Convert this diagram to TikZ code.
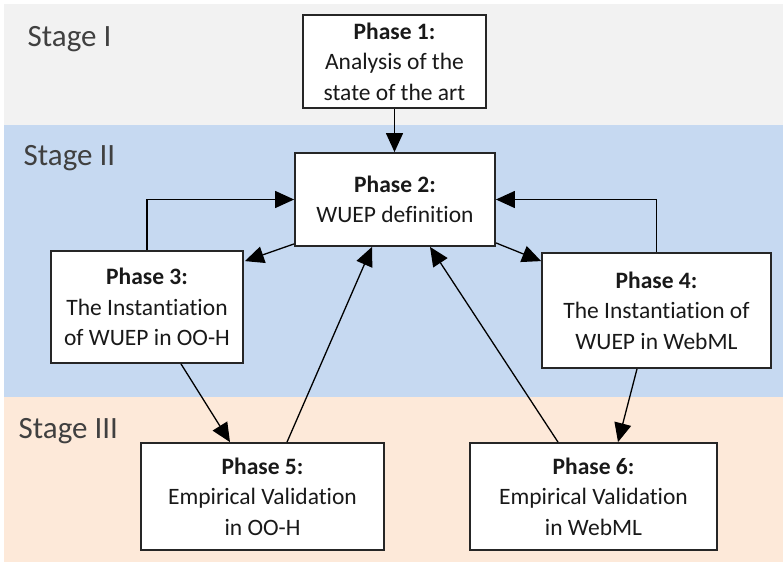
\documentclass[tikz,border=0pt]{standalone}
\usepackage{fontspec}
\setmainfont{Carlito}[Ligatures={NoCommon}]
\usetikzlibrary{arrows.meta,calc}
\definecolor{stageone}{HTML}{F2F2F2}
\definecolor{stagetwo}{HTML}{C6D9F1}
\definecolor{stagethree}{HTML}{FDE9D9}
\definecolor{labelgray}{HTML}{404040}

\begin{document}
\begin{tikzpicture}[x=1pt,y=-1pt,
  phasebox/.style={draw=black!85, line width=1.8pt, fill=white, align=center,
    inner sep=0pt, font=\fontsize{23.5}{30.5}\selectfont, text=black!90},
  flow/.style={line width=1.3pt, -{Triangle[length=19pt,width=17pt]}},
  stagelabel/.style={anchor=base west, inner sep=0pt,
    font=\fontsize{31}{36}\selectfont, text=labelgray}]

\useasboundingbox (0,0) rectangle (783,562);
\fill[white] (0,0) rectangle (783,562);

% stage bands
\fill[stageone]   (4,4)   rectangle (783,125);
\fill[stagetwo]   (4,125) rectangle (783,397);
\fill[stagethree] (4,397) rectangle (783,562);

\node[stagelabel] (s1) at (27.5,46)  {Stage I};
\node[stagelabel] (s2) at (23.5,165) {Stage II};
\node[stagelabel] (s3) at (18.5,438) {Stage III};

% phases
\node[phasebox, minimum width=183pt, minimum height=93pt] (p1) at (394.5,61.5)
  {\textbf{Phase 1:}\\Analysis of the\\state of the art};
\node[phasebox, minimum width=200pt, minimum height=93pt] (p2) at (395,199.5)
  {\textbf{Phase 2:}\\WUEP definition};
\node[phasebox, minimum width=192pt, minimum height=112pt] (p3) at (147,307)
  {\textbf{Phase 3:}\\The Instantiation\\of WUEP in OO-H};
\node[phasebox, minimum width=229pt, minimum height=115pt] (p4) at (656.5,310.5)
  {\textbf{Phase 4:}\\The Instantiation of\\WUEP in WebML};
\node[phasebox, minimum width=243pt, minimum height=107pt] (p5) at (262.5,496.5)
  {\textbf{Phase 5:}\\Empirical Validation\\in OO-H};
\node[phasebox, minimum width=247pt, minimum height=107pt] (p6) at (593.5,496.5)
  {\textbf{Phase 6:}\\Empirical Validation\\in WebML};

% connectors
\draw[flow] (p1.south) -- (p1.south |- p2.north);
\draw[flow] (p3.north) |- (p2.west);
\draw[flow] (p4.north) |- (p2.east);
\draw[flow] ($(p2.south west)+(0,-3)$) -- ($(p3.north east)+(1,11)$);
\draw[flow] ($(p2.south east)+(0,-4)$) -- ($(p4.north west)+(0,9)$);
\draw[flow] ($(p3.south)+(34,0)$) -- ($(p5.north)+(-32.5,0)$);
\draw[flow] ($(p5.north)+(24.5,0)$) -- ($(p2.south)+(-23,0)$);
\draw[flow] ($(p6.north)+(-35.5,0)$) -- ($(p2.south)+(35,0)$);
\draw[flow] ($(p4.south)+(-19.5,0)$) -- ($(p6.north)+(24.5,0)$);
\end{tikzpicture}
\end{document}
